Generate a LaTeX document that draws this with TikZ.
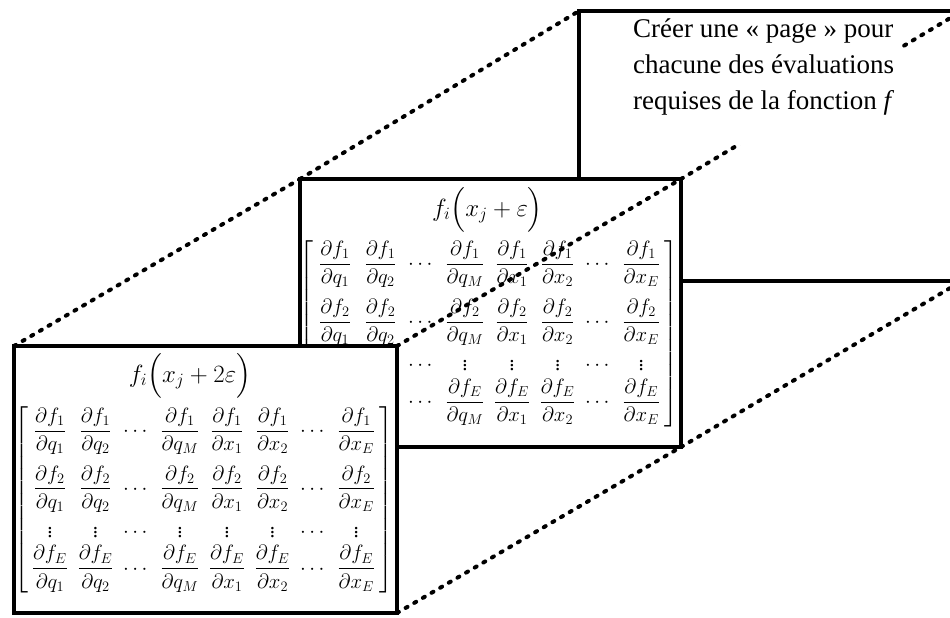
\documentclass[tikz,border=0pt]{standalone}
\usepackage{amsmath}
\usepackage{graphicx}
\usepackage{fontspec}
\setmainfont{Liberation Serif}
\newcommand{\jfr}[2]{{\displaystyle\frac{\partial f_{#1}}{\partial #2}}}
\newcommand{\jacmat}{%
\renewcommand{\arraystretch}{1}%
\setlength{\arraycolsep}{4.8pt}%
$\left[\begin{array}{@{\hspace{4pt}}*{8}{c}@{\hspace{4pt}}}
\jfr{1}{q_1} & \jfr{1}{q_2} & \cdots & \jfr{1}{q_M} & \jfr{1}{x_1} & \jfr{1}{x_2} & \cdots & \jfr{1}{x_E}\\[22pt]
\jfr{2}{q_1} & \jfr{2}{q_2} & \cdots & \jfr{2}{q_M} & \jfr{2}{x_1} & \jfr{2}{x_2} & \cdots & \jfr{2}{x_E}\\[18pt]
\vdots & \vdots & \cdots & \vdots & \vdots & \vdots & \cdots & \vdots\\[1pt]
\jfr{E}{q_1} & \jfr{E}{q_2} & \cdots & \jfr{E}{q_M} & \jfr{E}{x_1} & \jfr{E}{x_2} & \cdots & \jfr{E}{x_E}
\end{array}\right]$}
\tikzset{
  page/.style={draw, rectangle, line width=3.5pt, fill=white, inner sep=0pt, outer sep=0pt},
  dotline/.style={line width=4pt, line cap=round, dash pattern=on 2.2pt off 7.8pt},
  ttl/.style={inner sep=0pt, font=\fontsize{26}{30}\selectfont},
  jac/.style={inner sep=0pt, font=\fontsize{21}{25}\selectfont},
  note/.style={anchor=north west, fill=white, inner xsep=8pt, inner ysep=5pt, align=left, font=\fontsize{27}{36}\selectfont}
}
\begin{document}
\begin{tikzpicture}[x=1pt,y=-1pt]
\useasboundingbox (0,0) rectangle (950,618);
\clip (0,0) rectangle (950,618);
% back page
\node[page, minimum width=383pt, minimum height=270pt] (back) at (770.5,146) {};
% middle page
\node[page, minimum width=381pt, minimum height=268pt] (mid) at (490.5,313) {};
\node[ttl] (midtitle) at (487.5,210) {$f_i\Bigl(x_j+\varepsilon\Bigr)$};
\node[jac] (midjac) at (488.5,333.5) {\jacmat};
% front page
\node[page, minimum width=383pt, minimum height=267pt] (front) at (205.5,479.5) {};
\node[ttl] (fronttitle) at (190,376) {$f_i\Bigl(x_j+2\varepsilon\Bigr)$};
\node[jac] (frontjac) at (203.5,500) {\jacmat};
% dotted connectors
\draw[dotline] (front.north west) -- (mid.north west);
\draw[dotline] (mid.north west) -- (back.north west);
\draw[dotline] (front.north east) -- (mid.north east);
\draw[dotline] (mid.north east) -- (back.north east);
\draw[dotline] (front.south east) -- (mid.south east);
\draw[dotline] (mid.south east) -- (back.south east);
% note
\node[note] (txt) at (625,14) {Créer une « page » pour\\chacune des évaluations\\requises de la fonction \textit{f}\rule[-30pt]{0pt}{0pt}};
\end{tikzpicture}
\end{document}
